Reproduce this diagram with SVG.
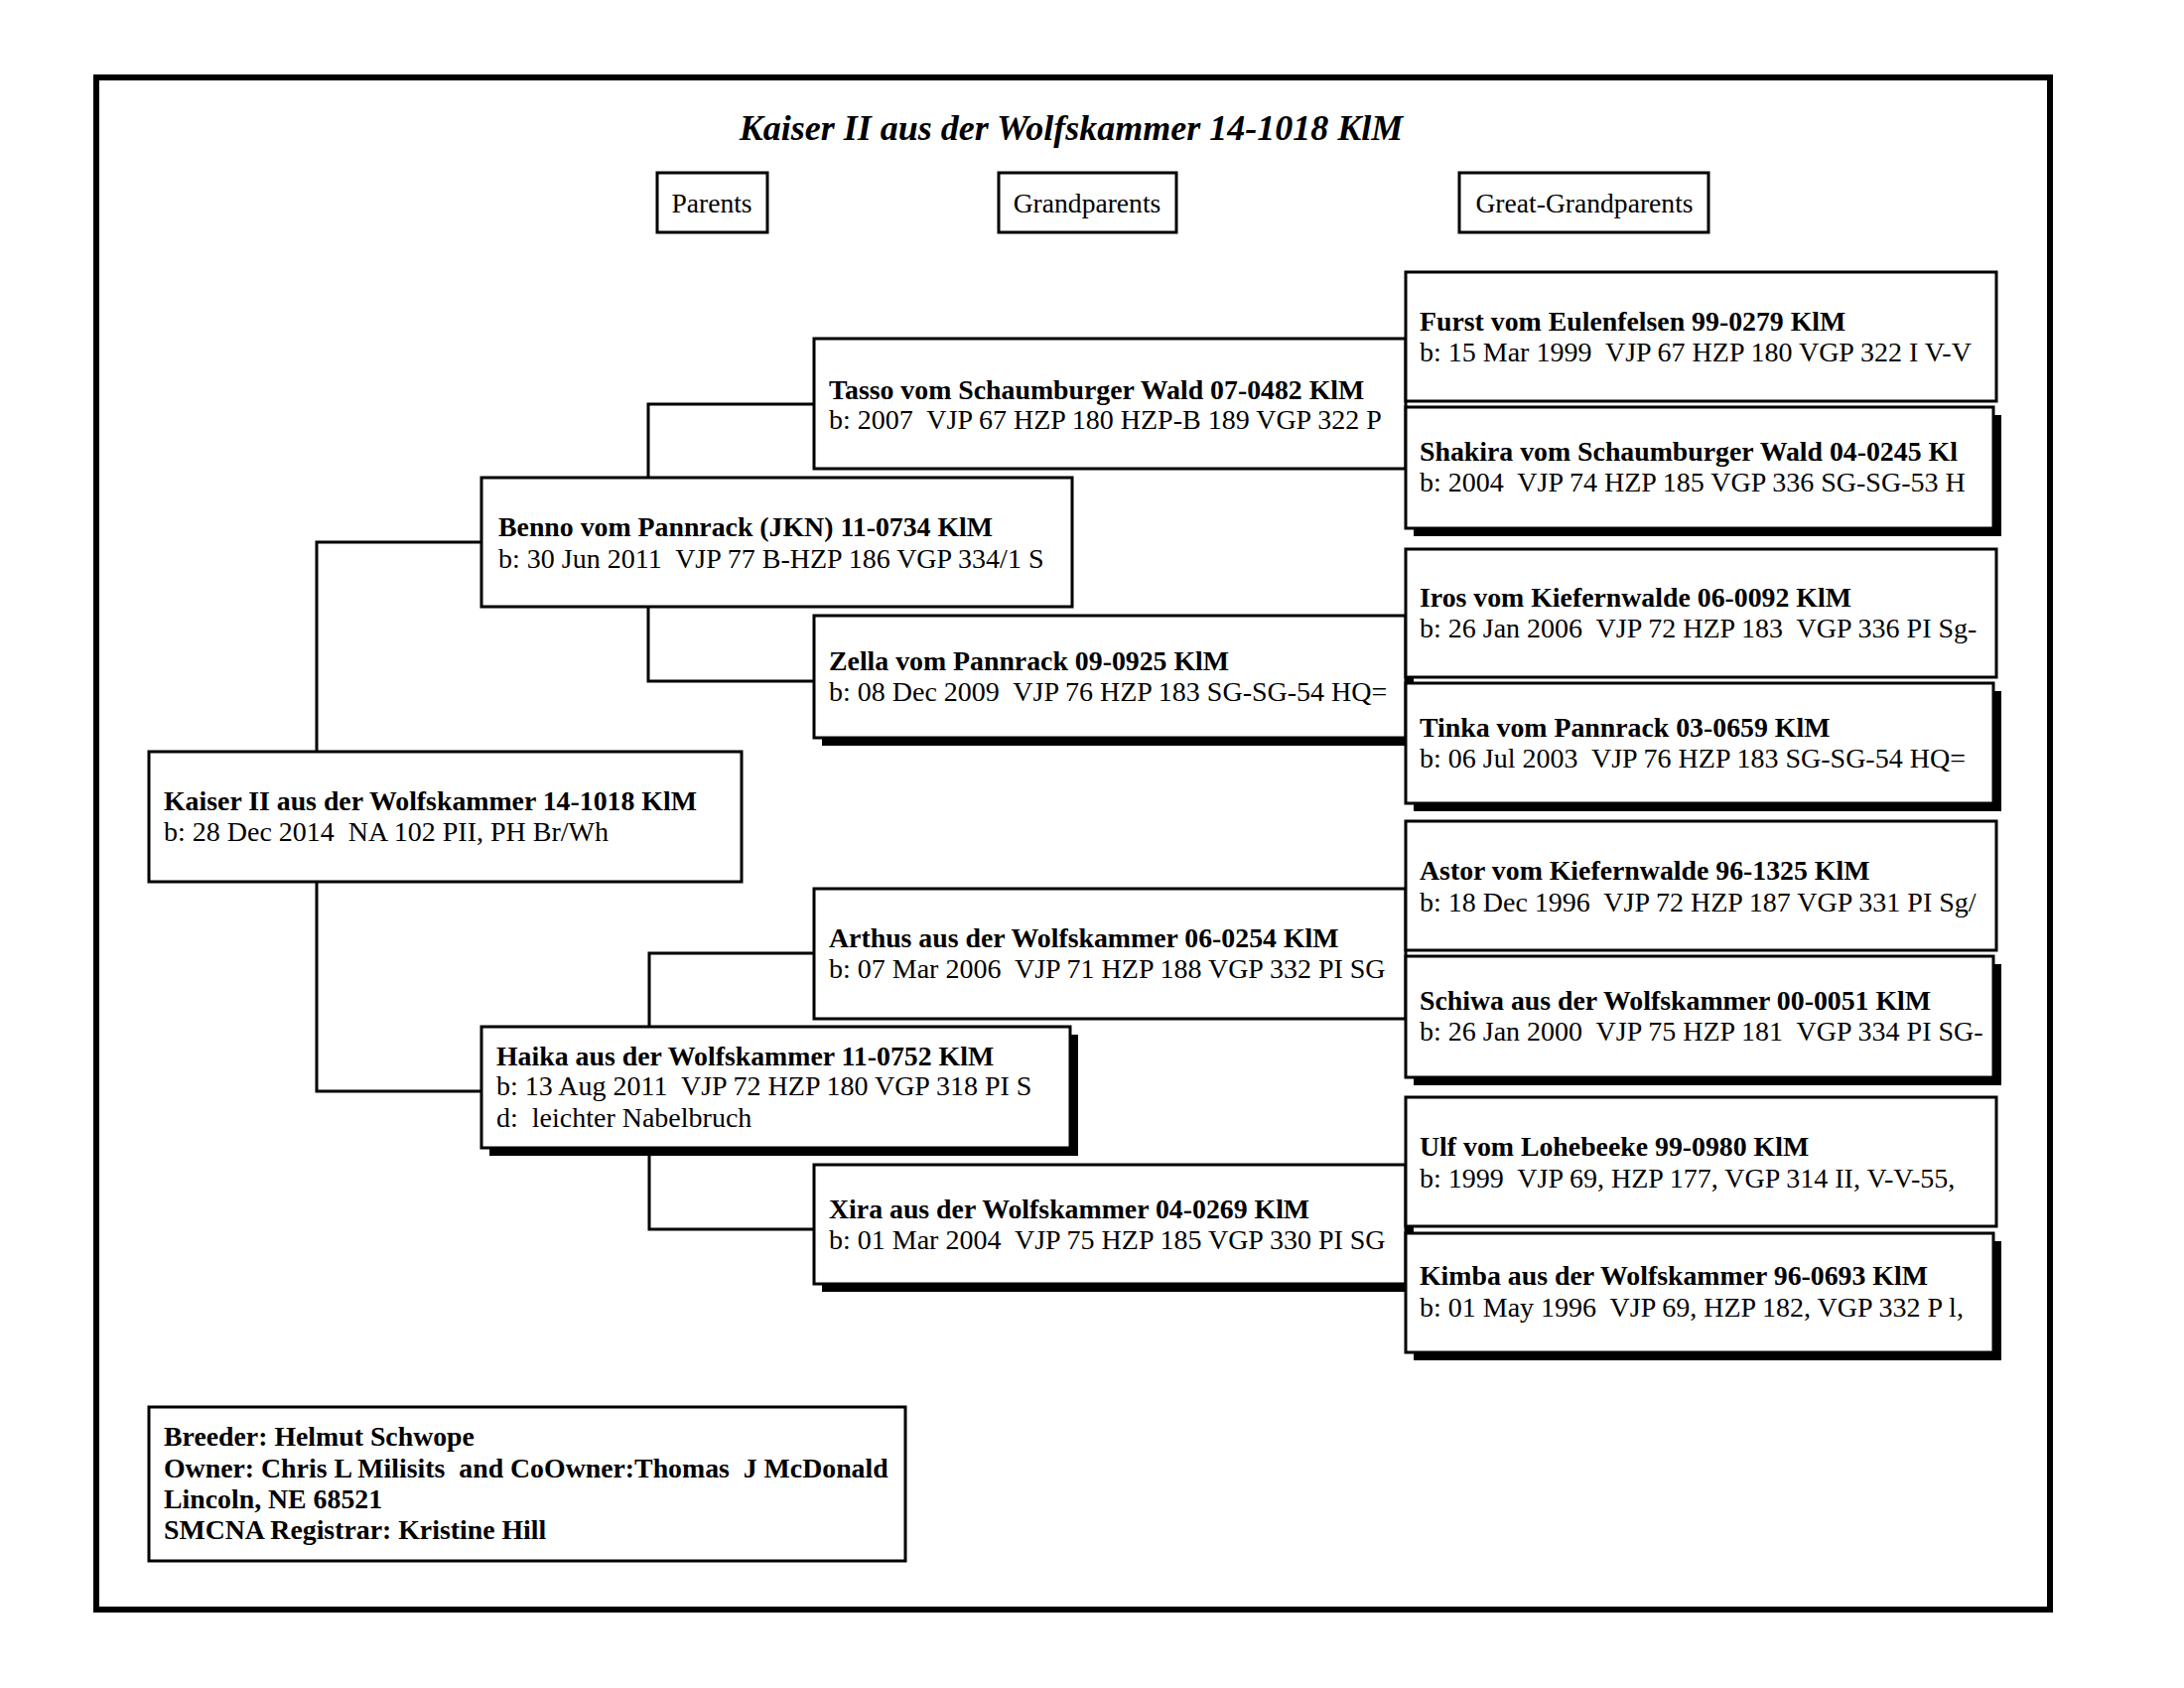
<svg xmlns="http://www.w3.org/2000/svg" width="2200" height="1700" viewBox="0 0 2200 1700">
<style>
.box{fill:#fff;stroke:#000;stroke-width:3}
.sh{fill:#000}
.hdr{fill:#fff;stroke:#000;stroke-width:3}
.con{fill:none;stroke:#000;stroke-width:3}
text{font-family:"Liberation Serif","Times New Roman",serif;fill:#000;white-space:pre}
.b{font-size:27.8px;font-weight:bold}
.r{font-size:28px}
.h{font-size:27.6px;text-anchor:middle}
.t{font-size:36px;font-weight:bold;font-style:italic;text-anchor:middle}
</style>
<rect x="0" y="0" width="2200" height="1700" fill="#fff"/>
<rect x="97" y="78" width="1968" height="1543" fill="none" stroke="#000" stroke-width="6"/>
<text class="t" x="1079" y="141">Kaiser II aus der Wolfskammer 14-1018 KlM</text>
<g id="headers">
<rect class="hdr" x="662" y="174" width="111" height="60"/>
<text class="h" x="717" y="214">Parents</text>
<rect class="hdr" x="1006" y="174" width="179" height="60"/>
<text class="h" x="1095" y="214">Grandparents</text>
<rect class="hdr" x="1470" y="174" width="251" height="60"/>
<text class="h" x="1596" y="214">Great-Grandparents</text>
</g>
<g id="connectors">
<path class="con" d="M319 757 V546 H485"/>
<path class="con" d="M319 888 V1099 H485"/>
<path class="con" d="M653 481 V407 H820"/>
<path class="con" d="M653 611 V686 H820"/>
<path class="con" d="M654 1034 V960 H820"/>
<path class="con" d="M654 1156 V1238 H820"/>
</g>
<g id="kaiser">
<rect class="box" x="150" y="757" width="597" height="131"/>
<text class="b" x="165" y="816">Kaiser II aus der Wolfskammer 14-1018 KlM</text>
<text class="r" x="165" y="847">b: 28 Dec 2014  NA 102 PII, PH Br/Wh</text>
</g>
<g id="benno">
<rect class="box" x="485" y="481" width="595" height="130"/>
<text class="b" x="502" y="540">Benno vom Pannrack (JKN) 11-0734 KlM</text>
<text class="r" x="502" y="572">b: 30 Jun 2011  VJP 77 B-HZP 186 VGP 334/1 S</text>
</g>
<g id="haika">
<rect class="sh" x="493" y="1042" width="593" height="122"/>
<rect class="box" x="485" y="1034" width="593" height="122"/>
<text class="b" x="500" y="1073">Haika aus der Wolfskammer 11-0752 KlM</text>
<text class="r" x="500" y="1103">b: 13 Aug 2011  VJP 72 HZP 180 VGP 318 PI S</text>
<text class="r" x="500" y="1135">d:  leichter Nabelbruch</text>
</g>
<g id="tasso">
<rect class="box" x="820" y="341" width="596" height="131"/>
<text class="b" x="835" y="402">Tasso vom Schaumburger Wald 07-0482 KlM</text>
<text class="r" x="835" y="432">b: 2007  VJP 67 HZP 180 HZP-B 189 VGP 322 P</text>
</g>
<g id="zella">
<rect class="sh" x="828" y="628" width="596" height="123"/>
<rect class="box" x="820" y="620" width="596" height="123"/>
<text class="b" x="835" y="675">Zella vom Pannrack 09-0925 KlM</text>
<text class="r" x="835" y="706">b: 08 Dec 2009  VJP 76 HZP 183 SG-SG-54 HQ=</text>
</g>
<g id="arthus">
<rect class="box" x="820" y="895" width="596" height="131"/>
<text class="b" x="835" y="954">Arthus aus der Wolfskammer 06-0254 KlM</text>
<text class="r" x="835" y="985">b: 07 Mar 2006  VJP 71 HZP 188 VGP 332 PI SG</text>
</g>
<g id="xira">
<rect class="sh" x="828" y="1181" width="596" height="120"/>
<rect class="box" x="820" y="1173" width="596" height="120"/>
<text class="b" x="835" y="1227">Xira aus der Wolfskammer 04-0269 KlM</text>
<text class="r" x="835" y="1258">b: 01 Mar 2004  VJP 75 HZP 185 VGP 330 PI SG</text>
</g>
<g id="furst">
<rect class="box" x="1416" y="274" width="595" height="130"/>
<text class="b" x="1430" y="333">Furst vom Eulenfelsen 99-0279 KlM</text>
<text class="r" x="1430" y="364">b: 15 Mar 1999  VJP 67 HZP 180 VGP 322 I V-V</text>
</g>
<g id="shakira">
<rect class="sh" x="1424" y="418" width="592" height="122"/>
<rect class="box" x="1416" y="410" width="592" height="122"/>
<text class="b" x="1430" y="464">Shakira vom Schaumburger Wald 04-0245 Kl</text>
<text class="r" x="1430" y="495">b: 2004  VJP 74 HZP 185 VGP 336 SG-SG-53 H</text>
</g>
<g id="iros">
<rect class="box" x="1416" y="553" width="595" height="129"/>
<text class="b" x="1430" y="611">Iros vom Kiefernwalde 06-0092 KlM</text>
<text class="r" x="1430" y="642">b: 26 Jan 2006  VJP 72 HZP 183  VGP 336 PI Sg-</text>
</g>
<g id="tinka">
<rect class="sh" x="1424" y="696" width="592" height="121"/>
<rect class="box" x="1416" y="688" width="592" height="121"/>
<text class="b" x="1430" y="742">Tinka vom Pannrack 03-0659 KlM</text>
<text class="r" x="1430" y="773">b: 06 Jul 2003  VJP 76 HZP 183 SG-SG-54 HQ=</text>
</g>
<g id="astor">
<rect class="box" x="1416" y="827" width="595" height="130"/>
<text class="b" x="1430" y="886">Astor vom Kiefernwalde 96-1325 KlM</text>
<text class="r" x="1430" y="918">b: 18 Dec 1996  VJP 72 HZP 187 VGP 331 PI Sg/</text>
</g>
<g id="schiwa">
<rect class="sh" x="1424" y="971" width="592" height="122"/>
<rect class="box" x="1416" y="963" width="592" height="122"/>
<text class="b" x="1430" y="1017">Schiwa aus der Wolfskammer 00-0051 KlM</text>
<text class="r" x="1430" y="1048">b: 26 Jan 2000  VJP 75 HZP 181  VGP 334 PI SG-</text>
</g>
<g id="ulf">
<rect class="box" x="1416" y="1105" width="595" height="130"/>
<text class="b" x="1430" y="1164">Ulf vom Lohebeeke 99-0980 KlM</text>
<text class="r" x="1430" y="1196">b: 1999  VJP 69, HZP 177, VGP 314 II, V-V-55,</text>
</g>
<g id="kimba">
<rect class="sh" x="1424" y="1250" width="592" height="120"/>
<rect class="box" x="1416" y="1242" width="592" height="120"/>
<text class="b" x="1430" y="1294">Kimba aus der Wolfskammer 96-0693 KlM</text>
<text class="r" x="1430" y="1326">b: 01 May 1996  VJP 69, HZP 182, VGP 332 P l,</text>
</g>
<g id="info">
<rect class="box" x="150" y="1417" width="762" height="155"/>
<text class="b" x="165" y="1456">Breeder: Helmut Schwope</text>
<text class="b" x="165" y="1488">Owner: Chris L Milisits  and CoOwner:Thomas  J McDonald</text>
<text class="b" x="165" y="1519">Lincoln, NE 68521</text>
<text class="b" x="165" y="1550">SMCNA Registrar: Kristine Hill</text>
</g>
</svg>
